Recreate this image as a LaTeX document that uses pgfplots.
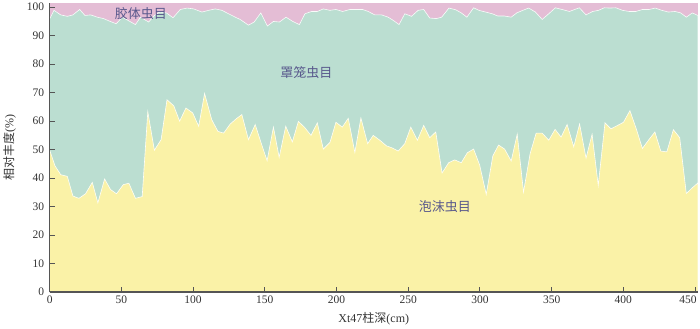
\documentclass[border=0pt]{standalone}
\usepackage{fontspec}
\setmainfont{Liberation Serif}
\newfontfamily\cjk{Noto Sans CJK SC}
\usepackage{pgfplots}
\pgfplotsset{compat=1.18}
\definecolor{pinkc}{RGB}{228,189,213}
\definecolor{greenc}{RGB}{187,222,209}
\definecolor{yellowc}{RGB}{250,242,167}
\definecolor{labc}{RGB}{88,88,140}
\definecolor{axc}{RGB}{85,85,85}

\begin{document}
\begin{tikzpicture}
\begin{axis}[
    scale only axis,
    width=648pt,
    height=289pt,
    xmin=0, xmax=452,
    ymin=0, ymax=101.5,
    xtick={0,50,...,400},
    extra x ticks={450},
    extra x tick style={xticklabel style={xshift=-7pt}},
    ytick={0,10,...,100},
    axis x line*=bottom,
    axis y line*=left,
    axis line style={axc, line width=1.1pt},
    tick style={axc, line width=1pt},
    tick align=inside,
    major tick length=5pt,
    axis on top=true,
    tick label style={font=\fontsize{11.5}{12}\selectfont, text=black!80},
    yticklabel style={xshift=-2pt},
    /pgf/number format/assume math mode=true,
    xlabel={Xt47{\cjk 柱深}(cm)},
    ylabel={{\cjk 相对丰度}(\%)},
    label style={font=\fontsize{12}{14}\selectfont, text=black!80},
    xlabel style={yshift=-2pt},
    ylabel style={yshift=4pt},
]
% 胶体虫目 (background up to the top)
\addplot[fill=pinkc, draw=none] coordinates {(0,101.5) (452,101.5)} \closedcycle;

% 罩笼虫目 upper boundary (cumulative)
\addplot[fill=greenc, draw=white!90!greenc, line width=0.6pt] coordinates {
(0,95.9)(3,98.9)(7.7,97.3)(12.3,96.8)(16.2,97.3)(20.9,99.2)(24.6,97.1)(28.5,97.3)
(33.2,96.5)(37.6,96)(42.2,95)(46.4,94.2)(50.6,96.5)(54.5,95.4)(59.8,93.9)(63.3,96.5)
(69,94.8)(73,97.1)(76.7,98.3)(81.4,98)(86,96.3)(91.1,99.2)(95.8,99.7)(100.4,99.4)
(106.2,98.3)(110.8,98.9)(115.5,99.4)(120.1,98.9)(124.7,97.7)(129.4,96.5)(132.8,95.7)
(138.6,93.7)(142.6,94.8)(147.2,98)(151.8,93.4)(156,95)(160.2,94.8)(164.8,96.5)
(169.5,95)(174.1,93.9)(178,97.7)(182.7,98.5)(186.6,98.5)(190.8,99.4)(195.4,98.9)
(199.6,99.2)(204.3,98.5)(209.3,99.2)(214,99.2)(218.2,99.2)(222.1,98.5)(226.7,97.3)
(231.4,97.3)(236,96.5)(239.5,95.4)(243.6,93.9)(247.6,97.7)(252.3,96.8)(256.9,98.9)
(260.8,99.2)(265,96.2)(269.6,96)(273.3,96.5)(278.4,99.7)(283.1,99.1)(287,98)
(290.9,96.5)(295.6,99.8)(299.3,98.9)(303.9,98.3)(308.6,97.7)(312.5,96.9)(317.2,96.9)
(321.8,96.5)(325.7,98)(329.9,98.9)(334,99.7)(338.7,98.3)(343.4,95.7)(348,97.7)
(352.6,99.8)(357.3,99.2)(362.4,98.5)(369.3,99.8)(374,97.3)(378.6,98.5)(382.7,98.9)
(386.7,99.8)(390.7,99.7)(394.8,99.8)(399.4,98.9)(404.1,98.5)(408.7,98.5)(413.3,99.2)
(418,99.2)(422.2,99.7)(426.8,98.9)(431.4,98.3)(436.1,98.5)(440,98)(443.9,96.5)
(448.1,98)(452,97.1)
} \closedcycle;

% 泡沫虫目
\addplot[fill=yellowc, draw=white!90!yellowc, line width=0.6pt] coordinates {
(0,49.8)(3.7,44.3)(7.7,41.2)(12.3,40.6)(16.2,33.7)(20.4,32.9)(25,34.5)(29.7,38.5)
(33.6,31.3)(38.3,39.7)(42.4,36)(46.6,34.5)(51.3,37.7)(55.2,38.2)(59.8,32.9)(64.5,33.5)
(68.4,63.3)(73,49.8)(77.7,53.5)(81.8,67.5)(86.5,65.4)(90.6,60)(95,64.6)(99.7,62.9)
(103.9,58.2)(108,69.7)(113,60.5)(117.3,56.4)(121.3,55.8)(125.9,59)(130.5,61)(134,62.3)
(138.6,53.5)(143.3,58.8)(147.4,52.4)(151.6,46.1)(156,57.9)(160,47.3)(164.6,58.2)
(169.2,52.7)(173.4,59.9)(177.6,57.9)(182.2,55)(186.6,59.4)(190.8,50.2)(195.4,52.5)
(199.6,59.6)(204,57.9)(208.2,61)(212.8,49)(217,61.1)(221.7,52.1)(225.6,55)(230.2,53.3)
(234.9,51.3)(238.8,50.6)(243,49.5)(247.6,52.1)(251.8,57.9)(256.4,53.3)(260.8,58.5)
(265,54.2)(269.2,56.2)(273.6,41.8)(278.2,45.4)(282.4,46.4)(287,45.4)(291.2,48.9)
(295.6,50.2)(299.8,44.6)(304.4,34.3)(309,47.8)(313,51.6)(317.2,50.2)(321.8,46)
(326,55.4)(330.4,35.1)(335,48.6)(339.2,55.8)(343.4,55.8)(348,53.3)(352.4,57.1)
(356.6,54.4)(360.8,58.8)(365.4,51)(369.5,59)(374,47)(378.2,55.4)(382.5,37.4)
(387.2,59.4)(391.4,57.3)(396,58.5)(400.1,59.6)(404.6,63.7)(409.2,57)(413.3,50.4)
(417.5,53.3)(422,56.2)(426.1,49.5)(430.3,49.2)(434.9,57)(439.3,54.2)(443.9,34.6)
(448.1,36.6)(452,38.3)
} \closedcycle;

\node[font=\cjk\fontsize{13}{14}\selectfont, text=labc] at (axis cs:63.5,97.6) {胶体虫目};
\node[font=\cjk\fontsize{13}{14}\selectfont, text=labc] at (axis cs:179,76.9) {罩笼虫目};
\node[font=\cjk\fontsize{13}{14}\selectfont, text=labc] at (axis cs:275.5,29.9) {泡沫虫目};
\end{axis}
\end{tikzpicture}
\end{document}
